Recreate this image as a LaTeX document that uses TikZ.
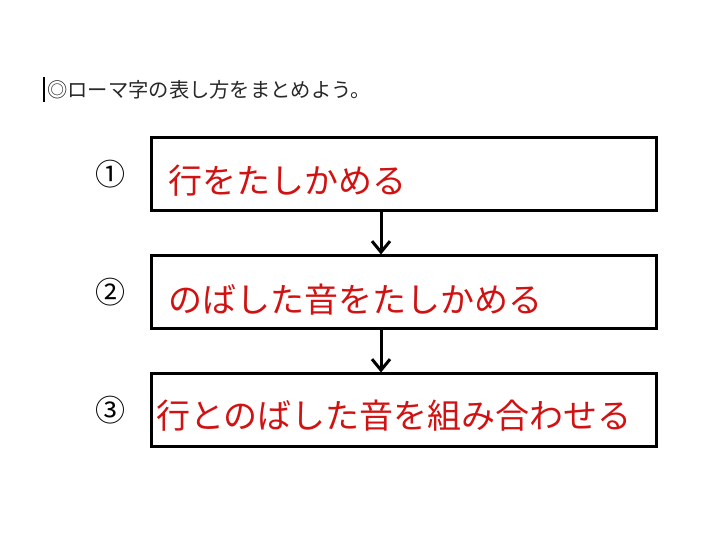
\documentclass[tikz,border=0pt]{standalone}
\usepackage{fontspec}
\setmainfont{Noto Sans CJK JP}
\usepackage{tikz}
\usetikzlibrary{positioning,arrows.meta}

\definecolor{stepred}{RGB}{208,18,18}
\definecolor{titlegray}{RGB}{40,40,40}

\tikzset{
  stepbox/.style={draw, line width=3bp, minimum width=505bp, minimum height=73bp, inner sep=0pt},
  steptext/.style={text=stepred, font=\fontsize{34bp}{38bp}\selectfont, inner sep=0pt, anchor=west},
  stepnum/.style={font=\fontsize{30bp}{34bp}\selectfont, inner sep=0pt},
  steparrow/.style={line width=3bp, -{Straight Barb[length=11bp,width=18bp,line width=3bp]}}
}

\begin{document}
\begin{tikzpicture}[x=1bp, y=1bp]
  \useasboundingbox (0,0) rectangle (720,540);
  % title line with the cursor bar
  \draw[line width=2bp] (44,438) -- (44,463);
  \node[anchor=west, inner sep=0pt, text=titlegray, font=\fontsize{20.3bp}{24bp}\selectfont] (title) at (47,450) {◎ローマ字の表し方をまとめよう。};

  % the three boxes
  \node[stepbox] (box1) at (404,365.5) {};
  \node[stepbox, below=42bp of box1] (box2) {};
  \node[stepbox, below=42bp of box2] (box3) {};

  % numbers
  \node[stepnum, left=24bp of box1] (num1) {①};
  \node[stepnum, left=24bp of box2] (num2) {②};
  \node[stepnum, left=24bp of box3] (num3) {③};

  % texts in red
  \node[steptext, right=18bp of box1.west, yshift=-6bp] (text1) {行をたしかめる};
  \node[steptext, right=18bp of box2.west, yshift=-7bp] (text2) {のばした音をたしかめる};
  \node[steptext, right=6bp of box3.west, yshift=-5bp] (text3) {行とのばした音を組み合わせる};

  % arrows
  \draw[steparrow] ([xshift=-23bp]box1.south) -- ([xshift=-23bp]box2.north);
  \draw[steparrow] ([xshift=-23bp]box2.south) -- ([xshift=-23bp]box3.north);
\end{tikzpicture}
\end{document}
